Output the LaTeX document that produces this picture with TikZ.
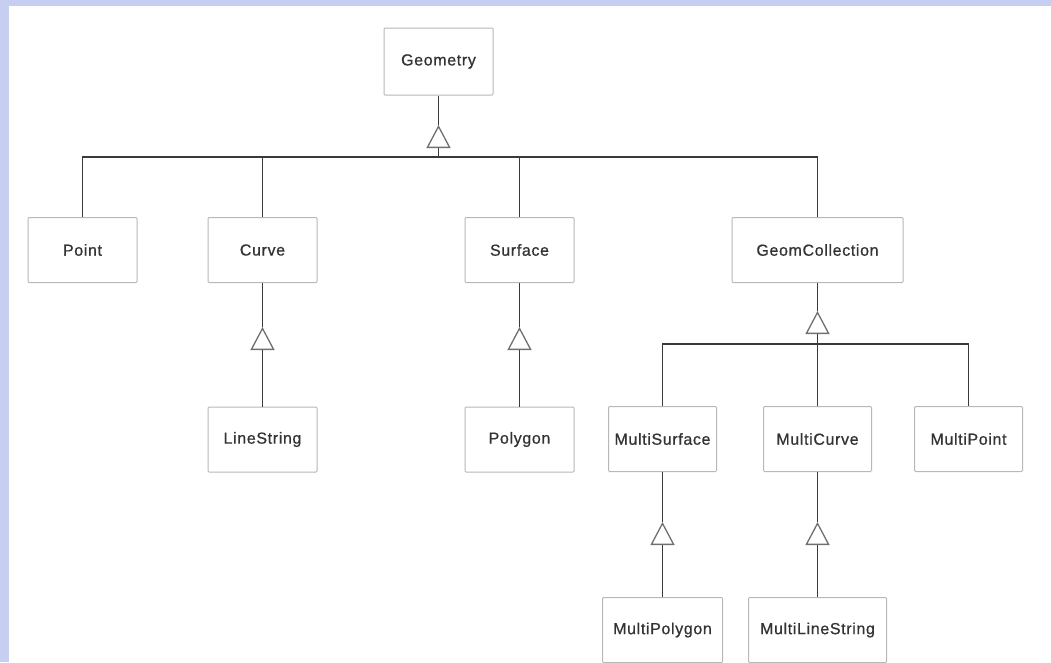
\documentclass[tikz,border=0pt]{standalone}
\usepackage{fontspec}
\setmainfont{Liberation Sans}[LetterSpace=4, FakeBold=0.7]
\usetikzlibrary{arrows.meta}
\definecolor{bgblue}{HTML}{C6CFF0}
\definecolor{boxgray}{HTML}{B8B8B8}
\definecolor{linegray}{HTML}{3A3A3A}
\definecolor{trigray}{HTML}{707070}
\definecolor{txtgray}{HTML}{333333}
\tikzset{
  cls/.style={draw=boxgray, line width=1pt, fill=white, rounded corners=1pt,
    minimum width=109pt, minimum height=65pt, inner sep=0pt,
    font=\fontsize{16}{18}\selectfont, text=txtgray},
  conn/.style={draw=linegray, line width=1.8pt},
  inh/.style={-{Triangle[open, length=23pt, width=24pt, color=trigray, fill=white, line width=1.3pt]}}
}
\begin{document}
\begin{tikzpicture}[x=1pt, y=-1pt]
\clip (0,0) rectangle (1051,662);
\fill[bgblue] (0,0) rectangle (1051,662);
\fill[white] (9,6) rectangle (1051,662);
% nodes
\node[cls, minimum height=67pt] (geo) at (438.5,61.5) {Geometry};
\node[cls] (point) at (82.5,250) {Point};
\node[cls] (curve) at (262.5,250) {Curve};
\node[cls] (surf) at (519.5,250) {Surface};
\node[cls, minimum width=171pt] (gc) at (817.5,250) {GeomCollection};
\node[cls] (ls) at (262.5,439.5) {LineString};
\node[cls] (poly) at (519.5,439.5) {Polygon};
\node[cls, minimum width=108pt] (msurf) at (662.5,439) {MultiSurface};
\node[cls, minimum width=108pt] (mcurve) at (817.5,439) {MultiCurve};
\node[cls, minimum width=108pt] (mpoint) at (968.5,439) {MultiPoint};
\node[cls, minimum width=120pt] (mpoly) at (662.5,630) {MultiPolygon};
\node[cls, minimum width=138pt] (mls) at (817.5,630) {MultiLineString};
% tips and junctions
\coordinate (tgeo) at (438.5,125);
\coordinate (jgeo) at (438.5,157);
\coordinate (tcurve) at (262.5,327);
\coordinate (tsurf) at (519.5,327);
\coordinate (tgc) at (817.5,311);
\coordinate (jgc) at (817.5,344);
\coordinate (tms) at (662.5,522);
\coordinate (tmc) at (817.5,522);
% Geometry hierarchy
\draw[conn] (geo.south) -- (tgeo);
\draw[conn, inh] (jgeo) -- (tgeo);
\draw[conn] (point.north) -- (point.north |- jgeo) -- (gc.north |- jgeo) -- (gc.north);
\draw[conn] (curve.north) -- (curve.north |- jgeo);
\draw[conn] (surf.north) -- (surf.north |- jgeo);
% Curve / Surface
\draw[conn] (curve.south) -- (tcurve);
\draw[conn, inh] (ls.north) -- (tcurve);
\draw[conn] (surf.south) -- (tsurf);
\draw[conn, inh] (poly.north) -- (tsurf);
% GeomCollection
\draw[conn] (gc.south) -- (tgc);
\draw[conn, inh] (jgc) -- (tgc);
\draw[conn] (msurf.north) -- (msurf.north |- jgc) -- (mpoint.north |- jgc) -- (mpoint.north);
\draw[conn] (mcurve.north) -- (mcurve.north |- jgc);
% lower
\draw[conn] (msurf.south) -- (tms);
\draw[conn, inh] (mpoly.north) -- (tms);
\draw[conn] (mcurve.south) -- (tmc);
\draw[conn, inh] (mls.north) -- (tmc);
\end{tikzpicture}
\end{document}
